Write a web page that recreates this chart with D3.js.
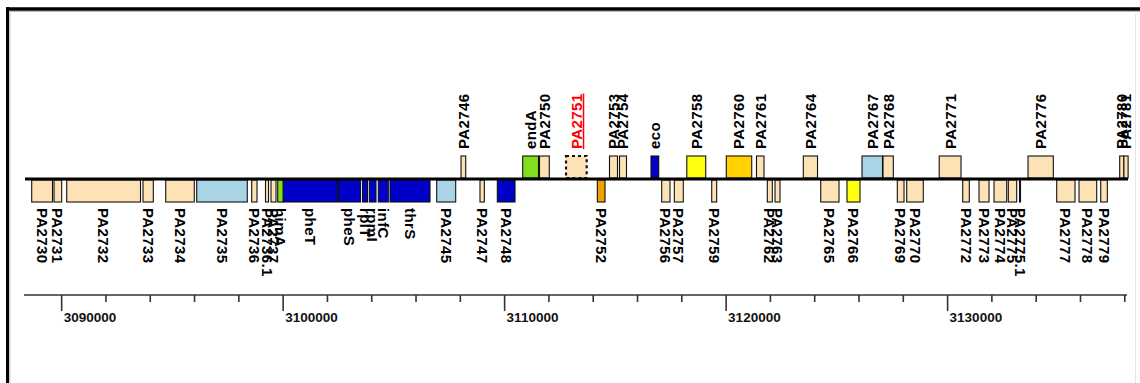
<!DOCTYPE html>
<html><head><meta charset="utf-8">
<script src="https://cdn.jsdelivr.net/npm/d3@7"></script>
<style>body{margin:0;background:#fff}svg{display:block}text{font-family:"Liberation Sans",Arial,sans-serif}</style>
</head><body><svg id="c" width="1140" height="383"></svg>
<script>
// ---- data (genome coordinates in bp) ----
const geneNames  = ["PA2730","PA2731","PA2732","PA2733","PA2734","PA2735","PA2736","PA2736.1","PA2737","himA","pheT","pheS","rplT","rpmI","infC","thrS","PA2745","PA2747","PA2748","PA2752","PA2756","PA2757","PA2759","PA2762","PA2763","PA2765","PA2766","PA2769","PA2770","PA2772","PA2773","PA2774","PA2775","PA2775.1","PA2777","PA2778","PA2779",
                    "PA2746","endA","PA2750","PA2751","PA2753","PA2754","eco","PA2758","PA2760","PA2761","PA2764","PA2767","PA2768","PA2771","PA2776","PA2780","PA2781"];
const geneStart  = [3088648,3089655,3090228,3093673,3094698,3096097,3098581,3099204,3099452,3099755,3100007,3102500,3103583,3103890,3104297,3104825,3106933,3108888,3109670,3114185,3117092,3117661,3119350,3121860,3122208,3124271,3125458,3127730,3128154,3130682,3131418,3132096,3132741,3133247,3134926,3135933,3136913,
                    3108031,3110816,3111575,3112771,3114735,3115187,3116609,3118225,3120009,3121372,3123485,3126136,3127084,3129621,3133631,3137770,3137960];
const geneEnd    = [3089587,3090002,3093560,3094138,3095989,3098382,3098820,3099340,3099678,3100007,3102455,3103493,3103809,3104193,3104748,3106631,3107791,3109083,3110469,3114532,3117467,3118067,3119575,3122086,3122433,3125097,3126045,3128032,3128903,3130980,3131870,3132669,3133120,3133292,3135753,3136732,3137212,
                    3108243,3111530,3112017,3113706,3115096,3115503,3116957,3119079,3121156,3121711,3124127,3127061,3127549,3130606,3134773,3137960,3138150];
const geneStrand = [-1,-1,-1,-1,-1,-1,-1,-1,-1,-1,-1,-1,-1,-1,-1,-1,-1,-1,-1,-1,-1,-1,-1,-1,-1,-1,-1,-1,-1,-1,-1,-1,-1,-1,-1,-1,-1,
                    1,1,1,1,1,1,1,1,1,1,1,1,1,1,1,1,1];
const geneClass  = ["unknown","unknown","unknown","unknown","unknown","membrane","unknown","unknown","unknown","dna","translation","translation","translation","translation","translation","translation","membrane","unknown","translation","regulation","unknown","unknown","unknown","unknown","unknown","unknown","transport","unknown","unknown","unknown","unknown","unknown","unknown","unknown","unknown","unknown","unknown",
                    "unknown","dna","unknown","unknown","unknown","unknown","translation","transport","metabolism","unknown","unknown","membrane","unknown","unknown","unknown","unknown","unknown"];
const focusGene  = "PA2751";
const axisRange  = [3088300, 3138100];
const minorStep  = 2000;
const majorTicks = [3090000, 3100000, 3110000, 3120000, 3130000];
const majorTickLabels = ["3090000","3100000","3110000","3120000","3130000"];

// ---- styles ----
const classColor = {unknown:"#fde2b6", membrane:"#a9d4e6", translation:"#0000c8", dna:"#80e020",
                    transport:"#ffff10", metabolism:"#ffd200", regulation:"#f0a000"};

const svg = d3.select("#c");
const x = d3.scaleLinear().domain(axisRange).range([24, 1127]);

// frame
svg.append("line").attr("x1",6).attr("x2",1140).attr("y1",9).attr("y2",9).attr("stroke","#000").attr("stroke-width",3.5);
svg.append("line").attr("x1",7.5).attr("x2",7.5).attr("y1",7).attr("y2",383).attr("stroke","#000").attr("stroke-width",3);
svg.append("line").attr("x1",10).attr("x2",1140).attr("y1",11.5).attr("y2",11.5).attr("stroke","#bbb").attr("stroke-width",1);
svg.append("line").attr("x1",9.8).attr("x2",9.8).attr("y1",11).attr("y2",383).attr("stroke","#bbb").attr("stroke-width",1);
svg.append("line").attr("x1",1135.5).attr("x2",1135.5).attr("y1",14).attr("y2",383).attr("stroke","#e6e6e6").attr("stroke-width",1);

const genes = geneNames.map((n,i)=>({name:n,start:geneStart[i],end:geneEnd[i],strand:geneStrand[i],cls:geneClass[i]}));

const lineY = 179, boxH = 22;
const g = svg.append("g");
g.selectAll("rect.gene").data(genes).join("rect")
  .attr("class","gene")
  .attr("x", d=>x(d.start))
  .attr("width", d=>Math.max(1, x(d.end)-x(d.start)))
  .attr("y", d=> d.strand>0 ? lineY-boxH-1 : lineY+1)
  .attr("height", boxH)
  .attr("fill", d=>classColor[d.cls])
  .attr("stroke", "#111")
  .attr("stroke-width", d=> d.name===focusGene ? 2.2 : 1.1)
  .attr("stroke-dasharray", d=> d.name===focusGene ? "3,3" : null);

// backbone
svg.append("line").attr("x1",x(axisRange[0])+1).attr("x2",x(axisRange[1])+1)
  .attr("y1",lineY).attr("y2",lineY).attr("stroke","#000").attr("stroke-width",3);

// labels
const lab = svg.append("g").attr("font-size",15).attr("font-weight","bold").attr("letter-spacing",0.4);
lab.selectAll("text").data(genes).join("text")
  .attr("transform", d=>{
     const cx = (x(d.start)+x(d.end))/2;
     return d.strand>0 ? `translate(${cx},149) rotate(-90)` : `translate(${cx},208) rotate(90)`;
  })
  .attr("dy","0.36em")
  .attr("fill", d=> d.name===focusGene ? "#ff0000" : "#000")
  .style("text-decoration", d=> d.name===focusGene ? "underline" : null)
  .text(d=>d.name);

// axis
const axY = 295;
svg.append("line").attr("x1",x(axisRange[0])).attr("x2",x(axisRange[1])).attr("y1",axY).attr("y2",axY)
  .attr("stroke","#333").attr("stroke-width",1.6);
const minorTicks = d3.range(Math.ceil(axisRange[0]/minorStep)*minorStep, axisRange[1]+1, minorStep);
svg.append("g").selectAll("line").data(minorTicks).join("line")
  .attr("x1",d=>x(d)).attr("x2",d=>x(d)).attr("y1",axY).attr("y2",d=> majorTicks.includes(d)? axY+16 : axY+7)
  .attr("stroke","#333").attr("stroke-width",1.6);
svg.append("g").selectAll("text").data(majorTicks).join("text")
  .attr("x",d=>x(d)+2).attr("y",axY+27)
  .attr("font-size",13.5).attr("font-weight","bold").attr("fill","#111")
  .text((d,i)=>majorTickLabels[i]);
</script></body></html>
